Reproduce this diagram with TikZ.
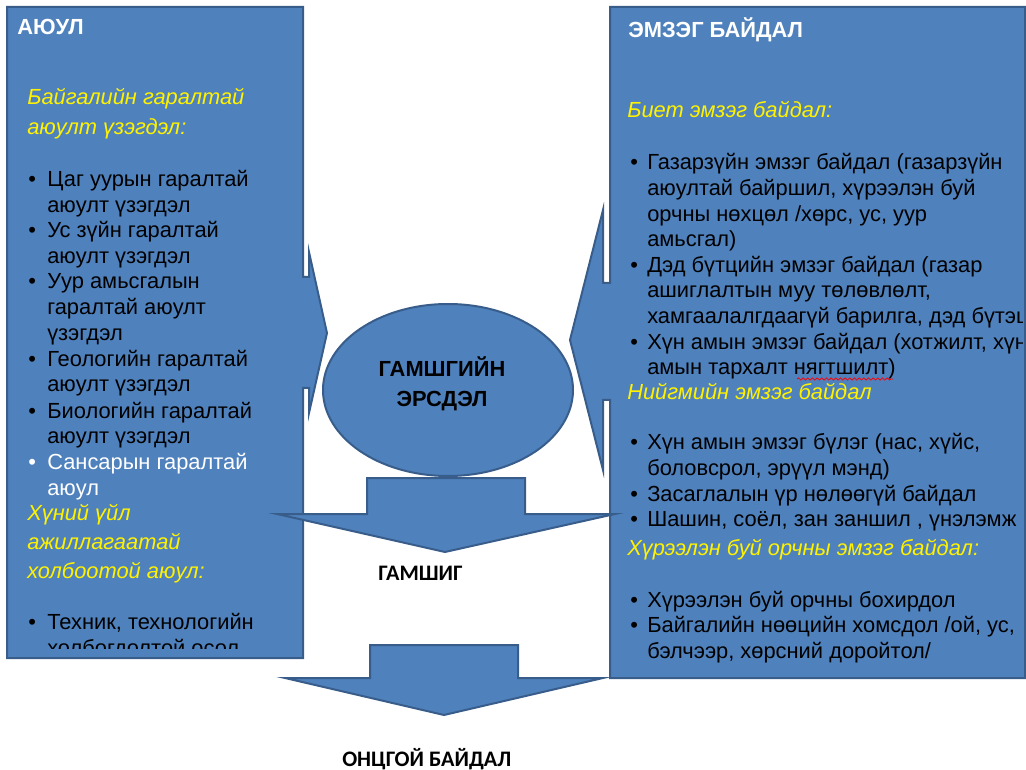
\documentclass[tikz,border=0pt]{standalone}
\usepackage{fontspec}
\setmainfont{Liberation Sans}
\newfontfamily\calib{Carlito}
\usetikzlibrary{decorations.pathmorphing}
\definecolor{shapeblue}{HTML}{4F81BD}
\definecolor{edgeblue}{HTML}{385D8A}

\begin{document}
\begin{tikzpicture}[x=0.75pt,y=-0.75pt,
    shp/.style={fill=shapeblue, draw=edgeblue, line width=1.5pt, line join=miter},
    txt/.style={anchor=base west, inner sep=0pt, font=\fontsize{16.4}{18}\selectfont},
    hd/.style={txt, text=yellow, font=\fontsize{16.4}{18}\selectfont\itshape},
    ttl/.style={txt, text=white, font=\fontsize{16.4}{18}\selectfont\bfseries},
    stagelbl/.style={inner sep=0pt, font=\fontsize{16.6}{18}\selectfont\calib\bfseries}]
  \useasboundingbox (0,0) rectangle (1026,770);

  % Hazard callout (left)
  \draw[shp] (7,7) -- (303,7) -- (303,277) -- (309,277) -- (309,252) -- (327,333)
    -- (309,413) -- (309,388) -- (303,388) -- (303,658) -- (7,658) -- cycle;

  % Vulnerability callout (right)
  \draw[shp] (610,7) -- (1025,7) -- (1025,678) -- (610,678) -- (610,400) -- (603,400)
    -- (603,470) -- (570,340) -- (603,210) -- (603,283) -- (610,283) -- cycle;

  % Risk
  \draw[shp] (448,390) ellipse [x radius=125, y radius=86];
  \node[inner sep=0pt, align=center, font=\fontsize{16.4}{22.5}\selectfont\bfseries] (risk) at (442,384) {ГАМШГИЙН\\ЭРСДЭЛ};

  % Down arrows
  \draw[shp] (367,478) -- (525,478) -- (525,514) -- (615,514) -- (445,552) -- (277,514)
    -- (367,514) -- cycle;
  \draw[shp] (370,645) -- (518,645) -- (518,678) -- (603,678) -- (444,715) -- (285,678)
    -- (370,678) -- cycle;
  \node[stagelbl, anchor=base west] (dis) at (378,580) {ГАМШИГ};
  \node[stagelbl, anchor=base west] (emer) at (342,766) {ОНЦГОЙ БАЙДАЛ};

  % Hazard text
  \begin{scope}
    \clip (7,7) rectangle (303,648);
    \node[ttl] (haz) at (17,35) {АЮУЛ};
    \node[hd] (nat1) at (27,105) {Байгалийн гаралтай};
    \node[hd] (nat2) at (27,135) {аюулт үзэгдэл:};
    \foreach \y/\t [count=\i] in {187/{Цаг уурын гаралтай}, 212.5/{аюулт үзэгдэл},
        238/{Ус зүйн гаралтай}, 263.5/{аюулт үзэгдэл}, 289/{Уур амьсгалын},
        315/{гаралтай аюулт}, 340.5/{үзэгдэл}, 366.5/{Геологийн гаралтай},
        392/{аюулт үзэгдэл}, 418/{Биологийн гаралтай}, 443.5/{аюулт үзэгдэл}}
      \node[txt] (hzl\i) at (47,\y) {\t};
    \node[txt, text=white] (hzl12) at (47,469.5) {Сансарын гаралтай};
    \node[txt, text=white] (hzl13) at (47,495) {аюул};
    \foreach \y [count=\i] in {187,238,289,366.5,418}
      \node[txt] (hzb\i) at (28,\y) {\textbullet};
    \node[txt, text=white] (hzb6) at (28,469.5) {\textbullet};
    \node[hd] (hum1) at (27,520) {Хүний үйл};
    \node[hd] (hum2) at (27,549) {ажиллагаатай};
    \node[hd] (hum3) at (27,578) {холбоотой аюул:};
    \node[txt] (hzb7) at (28,629) {\textbullet};
    \node[txt] (hzl14) at (47,629) {Техник, технологийн};
    \node[txt] (hzl15) at (47,655) {холбогдолтой осол};
  \end{scope}

  % Vulnerability text
  \begin{scope}
    \clip (610,7) rectangle (1022,678);
    \node[ttl] (vul) at (628,38) {ЭМЗЭГ БАЙДАЛ};
    \node[hd] (phy) at (627,118) {Биет эмзэг байдал:};
    \foreach \y/\t [count=\i] in {170/{Газарзүйн эмзэг байдал (газарзүйн},
        195.6/{аюултай байршил, хүрээлэн буй}, 221.2/{орчны нөхцөл /хөрс, ус, уур},
        246.8/{амьсгал)}, 272.4/{Дэд бүтцийн эмзэг байдал (газар},
        298/{ашиглалтын муу төлөвлөлт,}, 323.6/{хамгаалалгдаагүй барилга, дэд бүтэц)},
        349.2/{Хүн амын эмзэг байдал (хотжилт, хүн}, 374.8/{амын тархалт нягтшилт)},
        450/{Хүн амын эмзэг бүлэг (нас, хүйс,}, 475.6/{боловсрол, эрүүл мэнд)},
        501.2/{Засаглалын үр нөлөөгүй байдал}, 526.8/{Шашин, соёл, зан заншил , үнэлэмж},
        607/{Хүрээлэн буй орчны бохирдол}, 632.6/{Байгалийн нөөцийн хомсдол /ой, ус,},
        658.2/{бэлчээр, хөрсний доройтол/}}
      \node[txt] (vll\i) at (647,\y) {\t};
    \foreach \y [count=\i] in {170,272.4,349.2,450,501.2,526.8,607,632.6}
      \node[txt] (vlb\i) at (630,\y) {\textbullet};
    \node[hd] (soc) at (627,399) {Нийгмийн эмзэг байдал};
    \node[hd] (env) at (627,555) {Хүрээлэн буй орчны эмзэг байдал:};
    \draw[red, line width=0.6pt, decorate, decoration={snake, amplitude=0.8pt, segment length=3.5pt}]
      (797,379) -- (893,379);
  \end{scope}
\end{tikzpicture}
\end{document}
